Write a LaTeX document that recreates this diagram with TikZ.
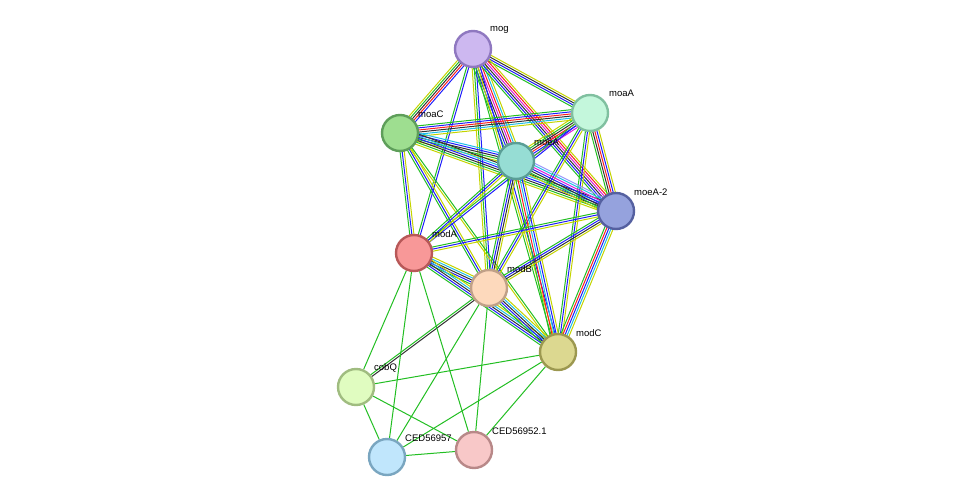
\documentclass[tikz,border=0pt]{standalone}
\usepackage{fontspec}
\setmainfont{Liberation Sans}
\usetikzlibrary{calc,backgrounds}
\definecolor{Y}{RGB}{196,212,0}
\definecolor{G}{RGB}{34,190,34}
\definecolor{B}{RGB}{30,30,250}
\definecolor{R}{RGB}{250,30,30}
\definecolor{C}{RGB}{30,190,230}
\definecolor{M}{RGB}{220,30,220}
\definecolor{K}{RGB}{50,50,50}
\definecolor{L}{RGB}{150,150,250}
\newcommand\nedge[4]{%
  \foreach \c [count=\i] in {#4} {%
    \pgfmathsetmacro\o{(\i-(#3+1)/2)*2.1}%
    \draw[\c,line width=1pt] ($(#1)!\o pt!90:(#2)$) -- ($(#2)!\o pt!-90:(#1)$);
  }}
\tikzset{prot/.style={circle,minimum size=36pt,inner sep=0pt,line width=2.4pt},
  lab/.style={font=\fontsize{9.5pt}{10pt}\selectfont,inner sep=0pt,anchor=south west}}
\begin{document}
\begin{tikzpicture}[x=1pt,y=-1pt]
\useasboundingbox (0,0) rectangle (976,503);
\node[prot,fill={rgb,255:red,205;green,184;blue,240},draw={rgb,255:red,143;green,120;blue,192}] (mog) at (473,49) {};
\node[prot,fill={rgb,255:red,196;green,247;blue,220},draw={rgb,255:red,128;green,192;blue,160}] (moaA) at (590,113) {};
\node[prot,fill={rgb,255:red,158;green,222;blue,144},draw={rgb,255:red,94;green,158;blue,90}] (moaC) at (400,133) {};
\node[prot,fill={rgb,255:red,150;green,221;blue,212},draw={rgb,255:red,90;green,158;blue,150}] (moeA) at (516,161) {};
\node[prot,fill={rgb,255:red,149;green,162;blue,221},draw={rgb,255:red,85;green,96;blue,160}] (moeA2) at (616,211) {};
\node[prot,fill={rgb,255:red,248;green,152;blue,152},draw={rgb,255:red,184;green,88;blue,88}] (modA) at (414,253) {};
\node[prot,fill={rgb,255:red,253;green,217;blue,188},draw={rgb,255:red,192;green,160;blue,136}] (modB) at (489,288) {};
\node[prot,fill={rgb,255:red,220;green,216;blue,144},draw={rgb,255:red,156;green,152;blue,80}] (modC) at (558,352) {};
\node[prot,fill={rgb,255:red,224;green,252;blue,192},draw={rgb,255:red,160;green,188;blue,128}] (cobQ) at (356,387) {};
\node[prot,fill={rgb,255:red,192;green,230;blue,252},draw={rgb,255:red,122;green,166;blue,192}] (c57) at (387,457) {};
\node[prot,fill={rgb,255:red,248;green,200;blue,200},draw={rgb,255:red,184;green,136;blue,136}] (c52) at (474,450) {};
\node[lab] (lmog) at (490,34) {mog};
\node[lab] (lmoaA) at (609,97) {moaA};
\node[lab] (lmoaC) at (418,118) {moaC};
\node[lab] (lmoeA) at (534,146) {moeA};
\node[lab] (lmoeA2) at (634,196) {moeA-2};
\node[lab] (lmodA) at (432,238) {modA};
\node[lab] (lmodB) at (507,273) {modB};
\node[lab] (lmodC) at (576,337) {modC};
\node[lab] (lcobQ) at (374,372) {cobQ};
\node[lab] (lc57) at (405,442) {CED56957};
\node[lab] (lc52) at (492,435) {CED56952.1};
\begin{scope}[on background layer]
\nedge{mog}{moaC}{5}{Y,G,K,R,B}
\nedge{mog}{moaA}{4}{G,B,K,Y}
\nedge{mog}{moeA}{7}{G,B,K,M,R,C,Y}
\nedge{mog}{moeA2}{6}{G,B,K,M,R,Y}
\nedge{mog}{modA}{2}{G,B}
\nedge{mog}{modB}{3}{Y,G,B}
\nedge{mog}{modC}{3}{G,Y,B}
\nedge{moaC}{moaA}{6}{Y,C,K,R,B,G}
\nedge{moaC}{moeA}{5}{Y,G,K,B,C}
\nedge{moaC}{moeA2}{6}{Y,G,K,B,C,K}
\nedge{moaC}{modA}{3}{G,B,Y}
\nedge{moaC}{modB}{3}{G,B,Y}
\nedge{moaC}{modC}{2}{Y,G}
\nedge{moaA}{moeA}{6}{Y,G,K,R,B,M}
\nedge{moaA}{moeA2}{5}{G,K,R,B,Y}
\nedge{moaA}{modA}{2}{G,B}
\nedge{moaA}{modB}{3}{G,B,Y}
\nedge{moaA}{modC}{3}{G,B,Y}
\nedge{moeA}{moeA2}{7}{Y,G,K,B,M,C,L}
\nedge{moeA}{modA}{3}{G,B,Y}
\nedge{moeA}{modB}{4}{G,B,K,Y}
\nedge{moeA}{modC}{5}{G,R,C,B,Y}
\nedge{moeA2}{modA}{3}{G,B,Y}
\nedge{moeA2}{modB}{4}{G,B,K,Y}
\nedge{moeA2}{modC}{5}{G,R,B,C,Y}
\nedge{modA}{modB}{5}{G,B,K,C,Y}
\nedge{modA}{modC}{5}{G,B,K,C,Y}
\nedge{modB}{modC}{5}{G,B,K,C,Y}
\nedge{modB}{cobQ}{2}{G,K}
\foreach \a/\b in {modA/cobQ,modA/c57,modA/c52,modB/c57,modB/c52,modC/cobQ,modC/c57,modC/c52,cobQ/c57,cobQ/c52,c57/c52}
  \draw[G,line width=1pt] (\a) -- (\b);
\end{scope}
\end{tikzpicture}
\end{document}
